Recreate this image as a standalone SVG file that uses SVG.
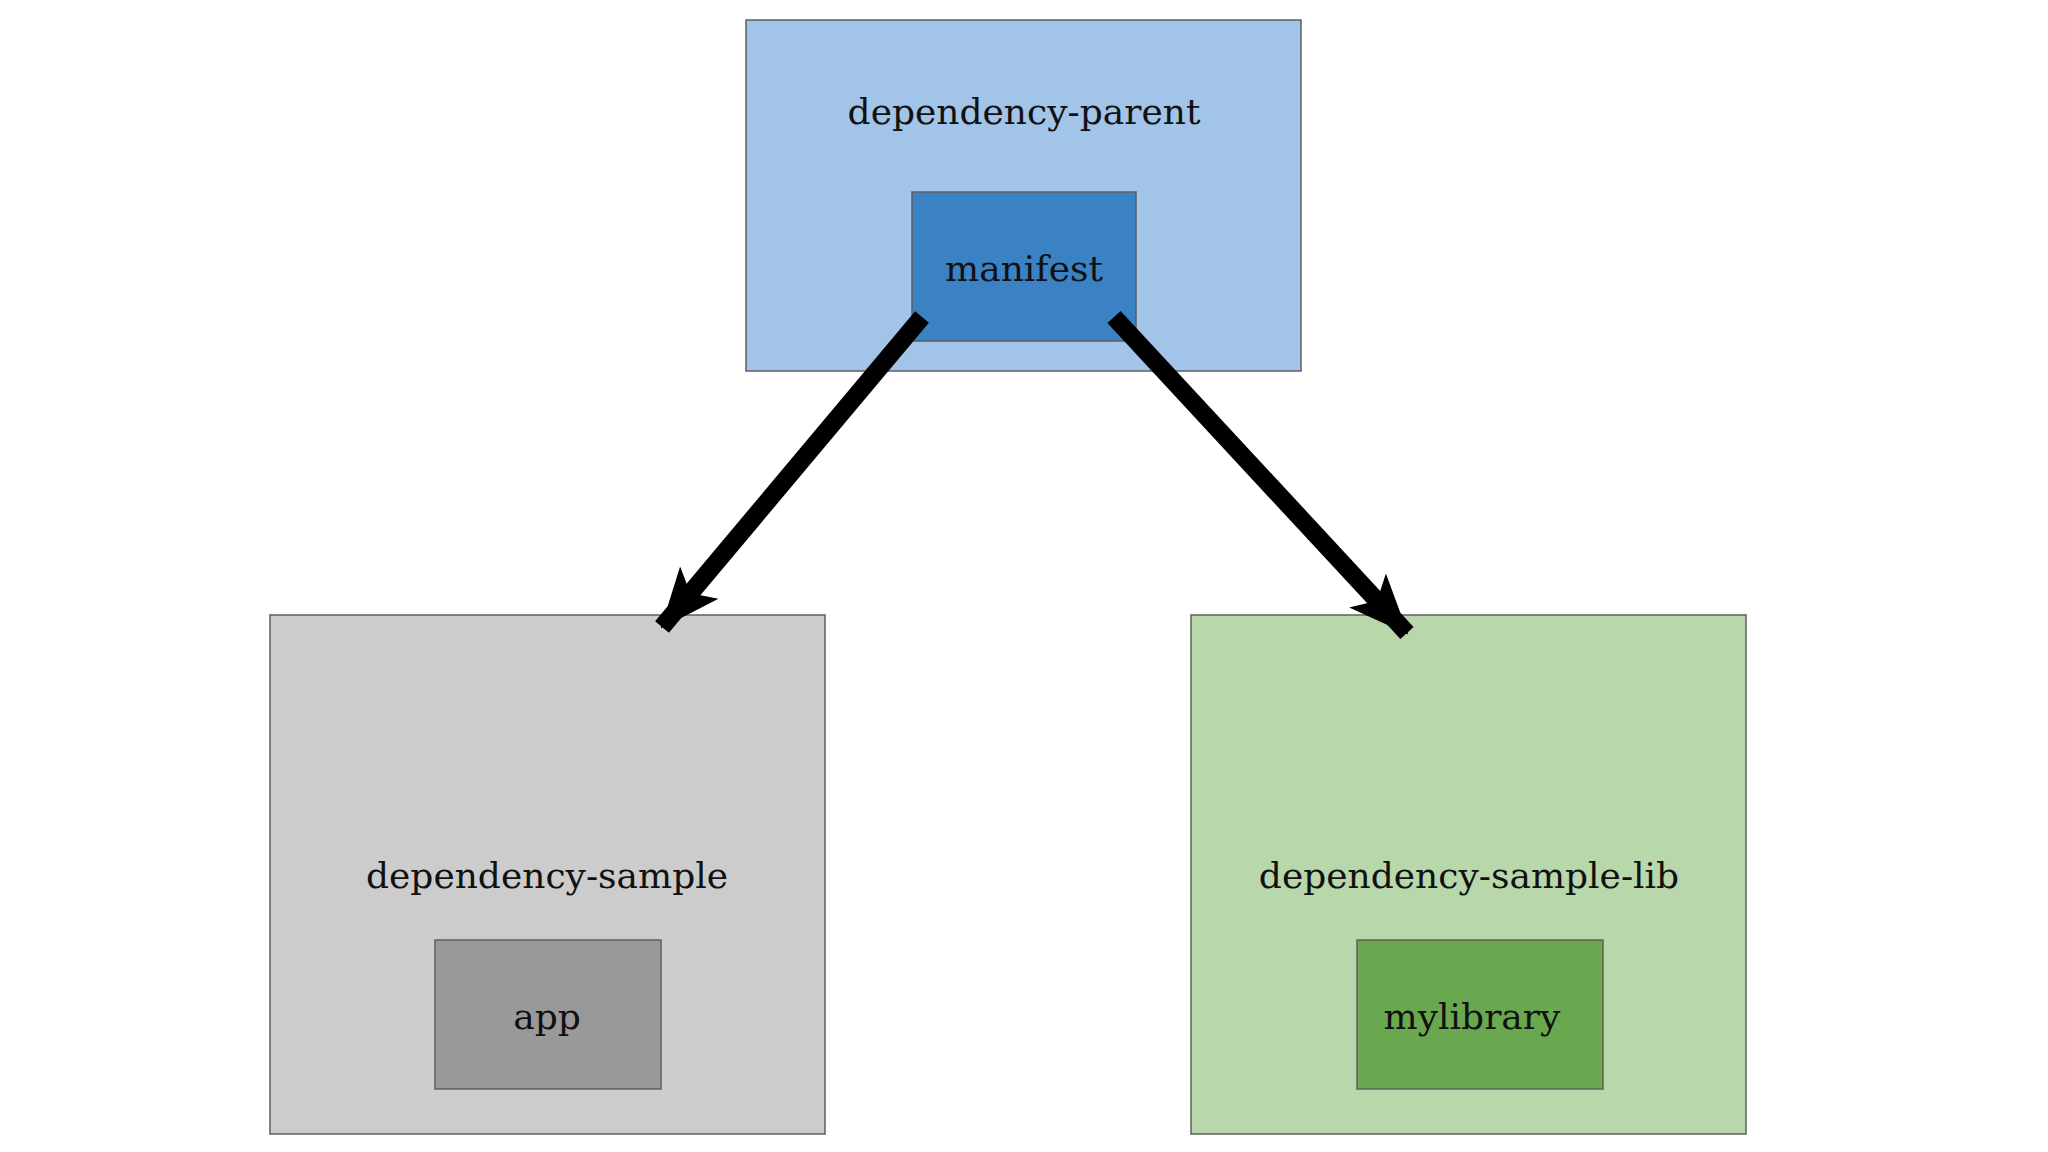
<svg xmlns="http://www.w3.org/2000/svg" width="2048" height="1152" viewBox="0 0 2048 1152">
<style>
rect{stroke:#5f5f5f;stroke-width:1.5}
text{font-family:"DejaVu Serif","Liberation Serif",serif;font-size:36px;fill:#111;text-anchor:middle}
.c{stroke:#000;stroke-width:18;fill:none}
</style>
<defs>
<marker id="ah" markerUnits="userSpaceOnUse" markerWidth="60" markerHeight="60" viewBox="0 0 60 60" refX="58" refY="30" orient="auto">
<path d="M0,5 L60,30 L0,55 L14,30 Z" fill="#000"/>
</marker>
</defs>
<rect width="2048" height="1152" fill="#fff" style="stroke:none"/>
<g id="dependency-parent">
<rect x="746" y="20" width="555" height="351" fill="#a1c4e8"/>
<text x="1024" y="124">dependency-parent</text>
</g>
<g id="manifest">
<rect x="912" y="192" width="224" height="149" fill="#3b82c4"/>
<text x="1024" y="281">manifest</text>
</g>
<g id="dependency-sample">
<rect x="270" y="615" width="555" height="519" fill="#cccccc"/>
<text x="547" y="888">dependency-sample</text>
</g>
<g id="app">
<rect x="435" y="940" width="226" height="149" fill="#999999"/>
<text x="547" y="1029">app</text>
</g>
<g id="dependency-sample-lib">
<rect x="1191" y="615" width="555" height="519" fill="#b8d7aa"/>
<text x="1469" y="888">dependency-sample-lib</text>
</g>
<g id="mylibrary">
<rect x="1357" y="940" width="246" height="149" fill="#6aa84f"/>
<text x="1472" y="1029">mylibrary</text>
</g>
<g id="connectors">
<line class="c" x1="922" y1="317" x2="662" y2="627" marker-end="url(#ah)"/>
<line class="c" x1="1114" y1="317" x2="1407" y2="633" marker-end="url(#ah)"/>
</g>
</svg>
